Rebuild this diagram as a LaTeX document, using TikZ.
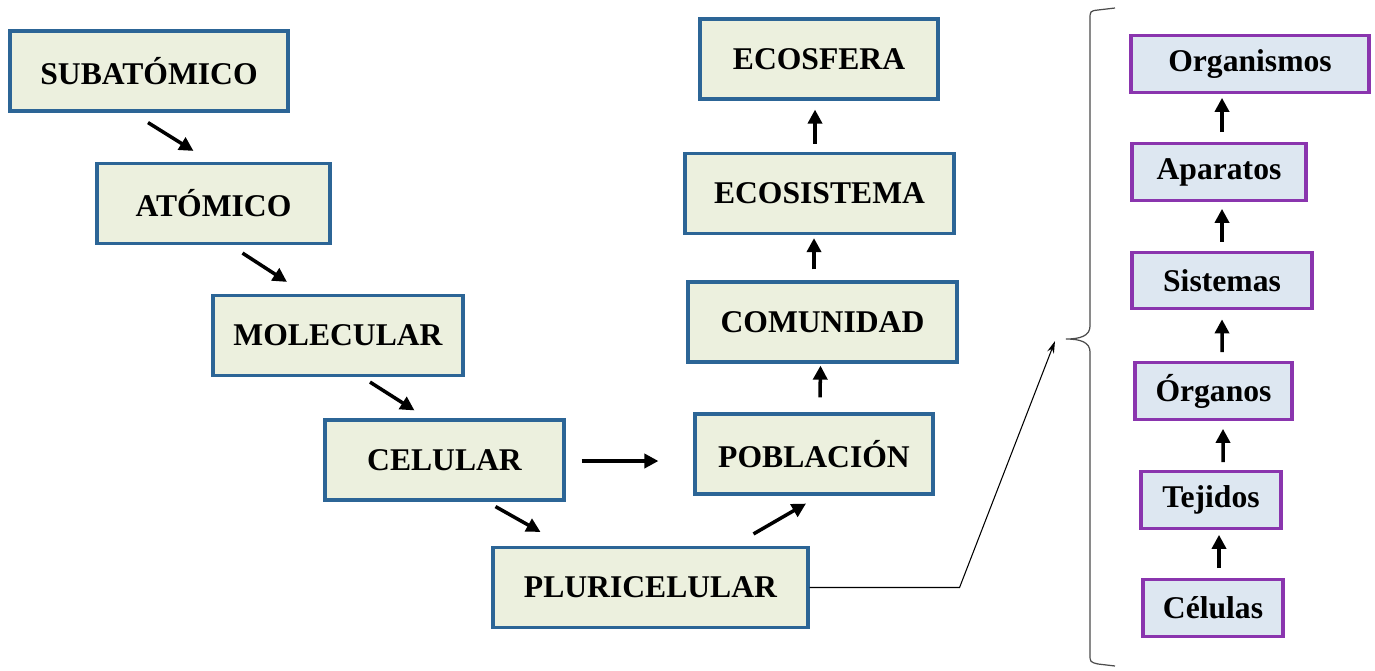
\documentclass[tikz,border=0pt]{standalone}
\usepackage{fontspec}
\setmainfont{Liberation Serif}
\usetikzlibrary{arrows.meta,calc}
\definecolor{levelfill}{HTML}{ECF0DE}
\definecolor{leveldraw}{HTML}{2C6596}
\definecolor{organfill}{HTML}{DDE7F1}
\definecolor{organdraw}{HTML}{8A35AE}
\begin{document}
\begin{tikzpicture}[x=0.02cm,y=-0.02cm]
	\tikzstyle{level}=[rectangle,draw=leveldraw,fill=levelfill,line width=1.8pt,minimum height=1.6cm,inner sep=0pt,font=\fontsize{18}{21}\selectfont\bfseries]
	\tikzstyle{organ}=[rectangle,draw=organdraw,fill=organfill,line width=1.8pt,minimum height=1.13cm,inner sep=0pt,font=\fontsize{18}{21}\selectfont\bfseries]
	\tikzstyle{thickarrow}=[draw=black,line width=2pt,-{Triangle[length=8pt,width=8pt]}]
	\tikzstyle{link}=[draw=black,line width=0.6pt,-{Stealth[length=7pt,width=4pt]}]
	\tikzstyle{bracket}=[draw=black!70,line width=0.7pt]
	\useasboundingbox (0,0) rectangle (1375,670);

	% levels of organisation
	\node [level,minimum width=5.56cm] (subatomico) at (149,71) {SUBATÓMICO};
	\node [level,minimum width=4.66cm] (atomico) at (213.5,203.5) {ATÓMICO};
	\node [level,minimum width=5.0cm] (molecular) at (338,335.5) {MOLECULAR};
	\node [level,minimum width=4.78cm] (celular) at (444.5,460) {CELULAR};
	\node [level,minimum width=6.3cm] (pluri) at (650.5,587.5) {PLURICELULAR};
	\node [level,minimum width=4.76cm] (poblacion) at (814,454) {POBLACIÓN};
	\node [level,minimum width=5.38cm] (comunidad) at (822.5,322) {COMUNIDAD};
	\node [level,minimum width=5.38cm] (ecosistema) at (819.5,193.5) {ECOSISTEMA};
	\node [level,minimum width=4.76cm] (ecosfera) at (819,59) {ECOSFERA};

	\path[thickarrow] ($(subatomico.south)+(-1,10)$) -- ($(atomico.north)+(-20,-11)$);
	\path[thickarrow] ($(atomico.south)+(29,8)$) -- ($(molecular.north)+(-51,-12)$);
	\path[thickarrow] ($(molecular.south)+(32,5)$) -- ($(celular.north)+(-30,-8)$);
	\path[thickarrow] ($(celular.south)+(51,5)$) -- ($(pluri.north)+(-110,-14)$);
	\path[thickarrow] ($(celular.east)+(16,1)$) -- ($(poblacion.west)+(-35,7)$);
	\path[thickarrow] ($(pluri.north)+(103,-12)$) -- ($(poblacion.south)+(-8,8)$);
	\path[thickarrow] ($(poblacion.north)+(6,-15)$) -- ($(comunidad.south)+(-2,2)$);
	\path[thickarrow] ($(comunidad.north)+(-8.5,-11)$) -- ($(ecosistema.south)+(-5.5,3)$);
	\path[thickarrow] ($(ecosistema.north)+(-4.5,-8)$) -- ($(ecosfera.south)+(-4,9)$);

	% organisms column
	\node [organ,minimum width=4.76cm] (organismos) at (1250,64) {Organismos};
	\node [organ,minimum width=3.48cm] (aparatos) at (1219,172) {Aparatos};
	\node [organ,minimum width=3.6cm] (sistemas) at (1222,280.5) {Sistemas};
	\node [organ,minimum width=3.14cm] (organos) at (1213.5,391) {Órganos};
	\node [organ,minimum width=2.8cm] (tejidos) at (1211,500) {Tejidos};
	\node [organ,minimum width=2.8cm] (celulas) at (1213,608) {Células};

	\path[thickarrow] ($(celulas.north)+(6,-10)$) -- ($(tejidos.south)+(8,5)$);
	\path[thickarrow] ($(tejidos.north)+(12,-8)$) -- ($(organos.south)+(9.5,8)$);
	\path[thickarrow] ($(organos.north)+(8.5,-9)$) -- ($(sistemas.south)+(0,9)$);
	\path[thickarrow] ($(sistemas.north)+(0,-9)$) -- ($(aparatos.south)+(3,7)$);
	\path[thickarrow] ($(aparatos.north)+(3,-10)$) -- ($(organismos.south)+(-28,4)$);

	% brace
	\coordinate (bracetip) at (1055,341);
	\coordinate (bracemid) at (1066,339);
	\coordinate (bracetop) at (1115,8);
	\coordinate (bracebot) at (1115,666);
	\path[link] (pluri.east) -- ++(150,0) -- (bracetip);
	\path[bracket] (bracetop) -- ++(-17,2) .. controls (1090,11) .. (1090,20)
		-- (1090,326) .. controls (1090,336) and (1080,339) .. (bracemid)
		.. controls (1080,339) and (1090,342) .. (1090,352)
		-- (1090,654) .. controls (1090,662) .. (1098,664) -- (bracebot);
\end{tikzpicture}
\end{document}
